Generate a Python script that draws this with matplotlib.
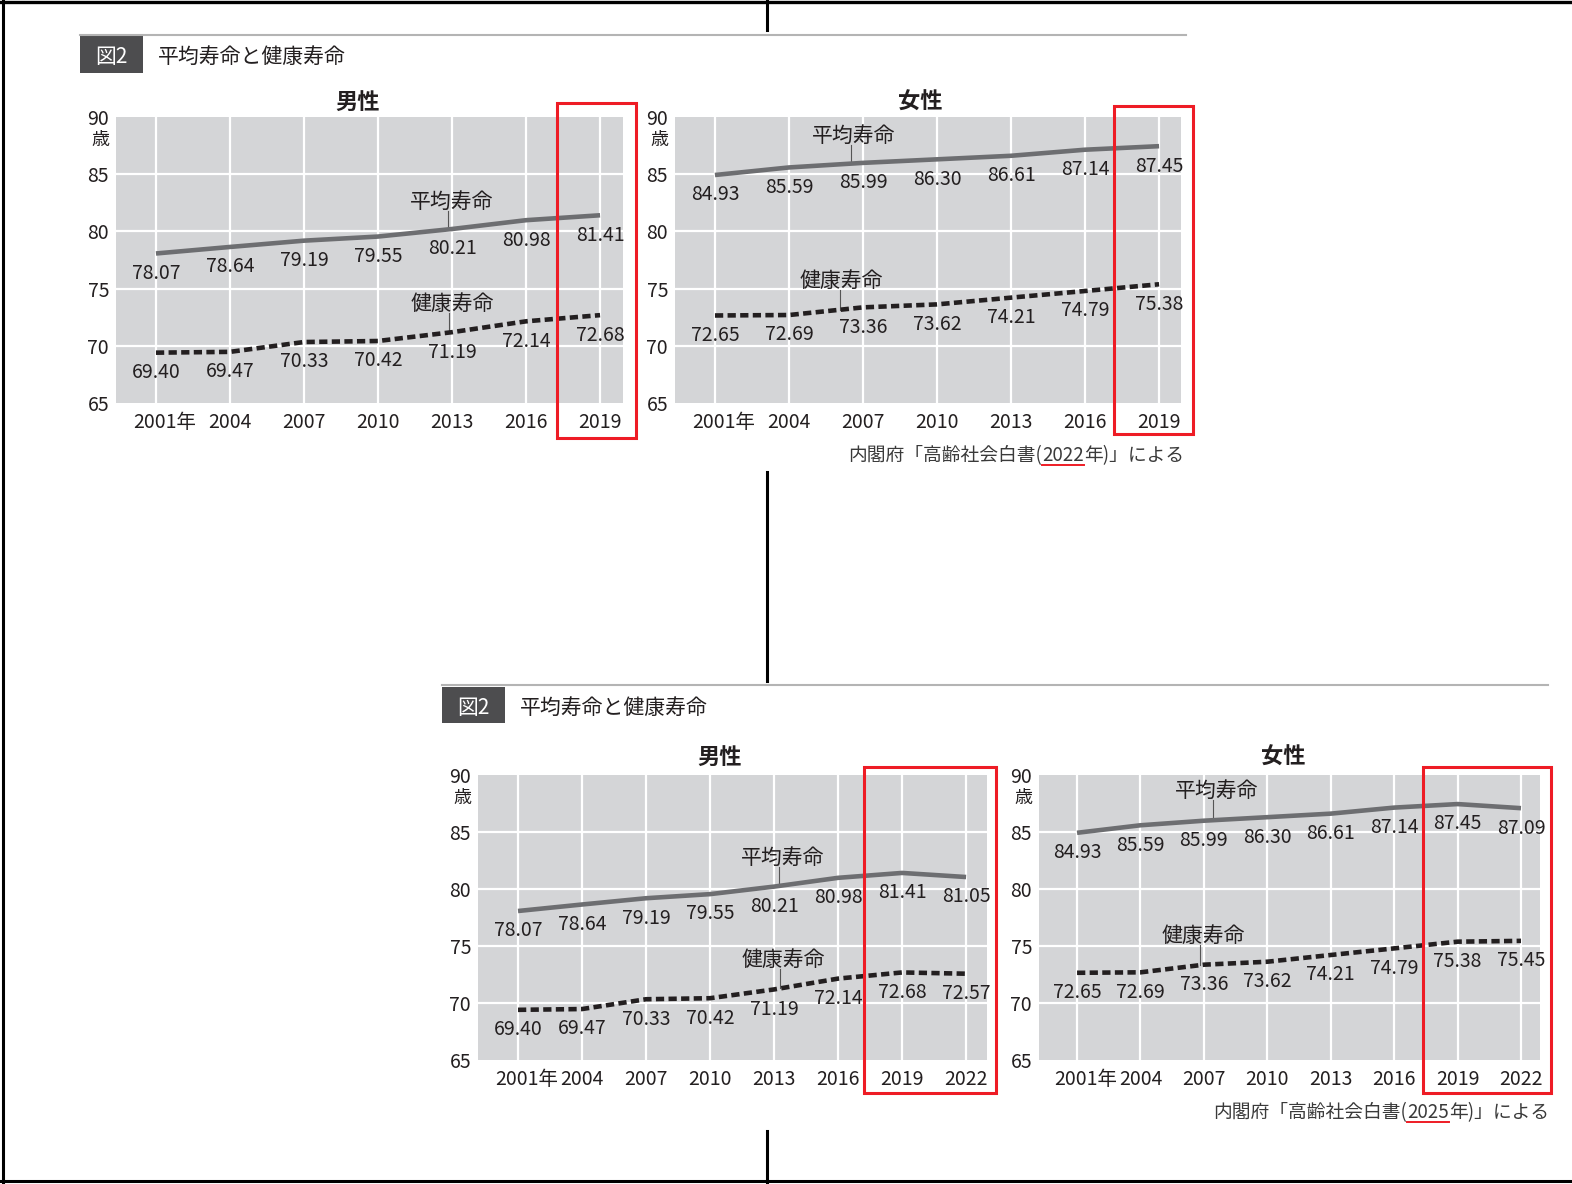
import numpy as np
import matplotlib.pyplot as plt
from matplotlib.patches import Rectangle
from matplotlib.lines import Line2D

plt.rcParams['font.family'] = ['Noto Sans CJK JP', 'DejaVu Sans']

# data (平均寿命 / 健康寿命, 歳)
years = [2001, 2004, 2007, 2010, 2013, 2016, 2019, 2022]
male_life = [78.07, 78.64, 79.19, 79.55, 80.21, 80.98, 81.41, 81.05]
male_healthy = [69.40, 69.47, 70.33, 70.42, 71.19, 72.14, 72.68, 72.57]
female_life = [84.93, 85.59, 85.99, 86.30, 86.61, 87.14, 87.45, 87.09]
female_healthy = [72.65, 72.69, 73.36, 73.62, 74.21, 74.79, 75.38, 75.45]
y_ticks = [65, 70, 75, 80, 85]

W, H = 1572, 1184
fig = plt.figure(figsize=(W / 100, H / 100), dpi=100)
fig.patch.set_facecolor('white')

TXT = '#231f20'
GRAYBG = '#d4d5d7'
LIFE_C = '#6d6e71'
DASH_C = '#231f20'
RED = '#ee1c25'
DY = 2.5  # the CJK font sits a bit high when centred, nudge texts down (px)


def fx(px):
    return px / W


def fy(py):
    return 1 - py / H


def draw_panel(box, xlim, n, life, healthy, title, title_xy, life_note, healthy_note):
    l, t, r, b = box
    ax = fig.add_axes([fx(l), fy(b), fx(r) - fx(l), fy(t) - fy(b)])
    yrs = years[:n]
    ax.set_facecolor(GRAYBG)
    ax.set_xlim(*xlim)
    ax.set_ylim(65, 90)
    for s in ax.spines.values():
        s.set_visible(False)
    for y in y_ticks[1:]:
        ax.axhline(y, color='white', lw=1.6, zorder=1)
    for x in yrs:
        ax.axvline(x, color='white', lw=1.6, zorder=1)

    ax.plot(yrs, life[:n], color=LIFE_C, lw=3.3, solid_capstyle='butt', zorder=3)
    ax.plot(yrs, healthy[:n], color=DASH_C, lw=3.3, dashes=(1.8, 0.95),
            dash_capstyle='butt', zorder=3)

    for x, v in zip(yrs, life[:n]):
        ax.annotate(f'{v:.2f}', (x, v), xytext=(0, -14.3), textcoords='offset points',
                    ha='center', va='center', fontsize=14, color=TXT, zorder=4)
    for x, v in zip(yrs, healthy[:n]):
        ax.annotate(f'{v:.2f}', (x, v), xytext=(0, -14.3), textcoords='offset points',
                    ha='center', va='center', fontsize=14, color=TXT, zorder=4)

    # series names with leader lines
    for (tx, ty, lx), vals, name in [(life_note, life, '平均寿命'),
                                     (healthy_note, healthy, '健康寿命')]:
        ax.annotate(name, (tx, ty), xytext=(0, -1.8), textcoords='offset points',
                    ha='center', va='center', fontsize=15, color=TXT, zorder=4)
        yv = np.interp(lx, yrs, vals[:n])
        ax.plot([lx, lx], [ty - 1.05, yv], color='#555555', lw=0.8, zorder=2)

    # axis labels
    ax.set_xticks([])
    ax.set_yticks(y_ticks, [str(v) for v in y_ticks])
    ax.tick_params(axis='y', length=0, pad=5, labelsize=14, labelcolor=TXT)
    ax.annotate('90', (0, 90), xycoords=('axes fraction', 'data'), xytext=(-5, -1.8),
                textcoords='offset points', ha='right', va='center', fontsize=14, color=TXT)
    ax.annotate('歳', (0, 90), xycoords=('axes fraction', 'data'), xytext=(-5, -16.3),
                textcoords='offset points', ha='right', va='center', fontsize=13, color=TXT)
    for i, x in enumerate(yrs):
        lab = f'{x}年' if i == 0 else str(x)
        dx = 6.5 if i == 0 else 0
        ax.annotate(lab, (x, 0), xycoords=('data', 'axes fraction'), xytext=(dx, -14),
                    textcoords='offset points', ha='center', va='center', fontsize=14,
                    color=TXT)

    fig.text(fx(title_xy[0]), fy(title_xy[1] + DY), title, ha='center', va='center',
             fontsize=16, fontweight='bold', color=TXT)
    return ax


def header(x0, x1, y_line, box_top, box_bot, box_right, title_x):
    fig.add_artist(Line2D([fx(x0), fx(x1)], [fy(y_line)] * 2, color='#b4b4b4', lw=1.5))
    fig.add_artist(Rectangle((fx(x0), fy(box_bot)), fx(box_right) - fx(x0),
                             (box_bot - box_top) / H, color='#4d4d4f', lw=0))
    yc = (box_top + box_bot) / 2 + DY
    fig.text(fx((x0 + box_right) / 2), fy(yc), '図2', ha='center',
             va='center', fontsize=15, color='white')
    fig.text(fx(title_x), fy(yc), '平均寿命と健康寿命', ha='left',
             va='center', fontsize=15, color=TXT)


def red_box(l, t, r, b):
    fig.add_artist(Rectangle((fx(l), fy(b)), fx(r) - fx(l), (b - t) / H,
                             fill=False, edgecolor=RED, lw=2.2))


def source(x_right, y_c, year_str):
    rend = fig.canvas.get_renderer()
    yt = fy(y_c + DY)
    t3 = fig.text(fx(x_right), yt, '年)」による', ha='right', va='center',
                  fontsize=13.5, color='#3a3a3a')
    bb3 = t3.get_window_extent(rend)
    t2 = fig.text(bb3.x0 / W, yt, year_str, ha='right', va='center',
                  fontsize=13.5, color='#3a3a3a')
    bb2 = t2.get_window_extent(rend)
    fig.text(bb2.x0 / W, yt, '内閣府「高齢社会白書(', ha='right', va='center',
             fontsize=13.5, color='#3a3a3a')
    fig.add_artist(Line2D([bb2.x0 / W, bb2.x1 / W], [fy(y_c + 12)] * 2, color=RED, lw=1.4))


# ---- upper figure (2022 edition) ----
header(80, 1186, 35, 36, 73, 143, 158)
draw_panel((116, 117, 623, 403), (1999.38, 2019.93), 7, male_life, male_healthy,
           '男性', (358, 100), (2013.0, 82.83, 2012.83), (2013.0, 73.9, 2012.88))
draw_panel((675, 117, 1181, 403), (1999.38, 2019.89), 7, female_life, female_healthy,
           '女性', (920, 100), (2006.62, 88.6, 2006.5), (2006.1, 75.93, 2006.05))
red_box(557, 103, 636, 438)
red_box(1114, 106, 1193, 434)
source(1184, 453, '2022')

# ---- lower figure (2025 edition) ----
header(442, 1548, 685, 687, 723, 505, 520)
draw_panel((478, 775, 987, 1060), (1999.125, 2022.98), 8, male_life, male_healthy,
           '男性', (720, 755), (2013.4, 82.98, 2013.25), (2013.45, 74.04, 2013.3))
draw_panel((1039, 775, 1540, 1060), (1999.2, 2022.9), 8, female_life, female_healthy,
           '女性', (1283, 755), (2007.6, 88.86, 2007.44), (2006.97, 76.14, 2006.8))
red_box(864, 767, 996, 1093)
red_box(1423, 767, 1551, 1093)
source(1549, 1110, '2025')

# page frame and centre separators
fig.add_artist(Line2D([0, 1], [fy(1.5)] * 2, color='black', lw=2.4))
fig.add_artist(Line2D([fx(3), fx(3)], [0, 1], color='black', lw=2.2))
fig.add_artist(Line2D([0, 1], [fy(1180.5)] * 2, color='black', lw=2.2))
for y0, y1 in [(0, 30), (472, 681), (1131, 1184)]:
    fig.add_artist(Line2D([fx(767), fx(767)], [fy(y0), fy(y1)], color='black', lw=2.2))

fig.savefig('out.png', dpi=100, facecolor='white')
